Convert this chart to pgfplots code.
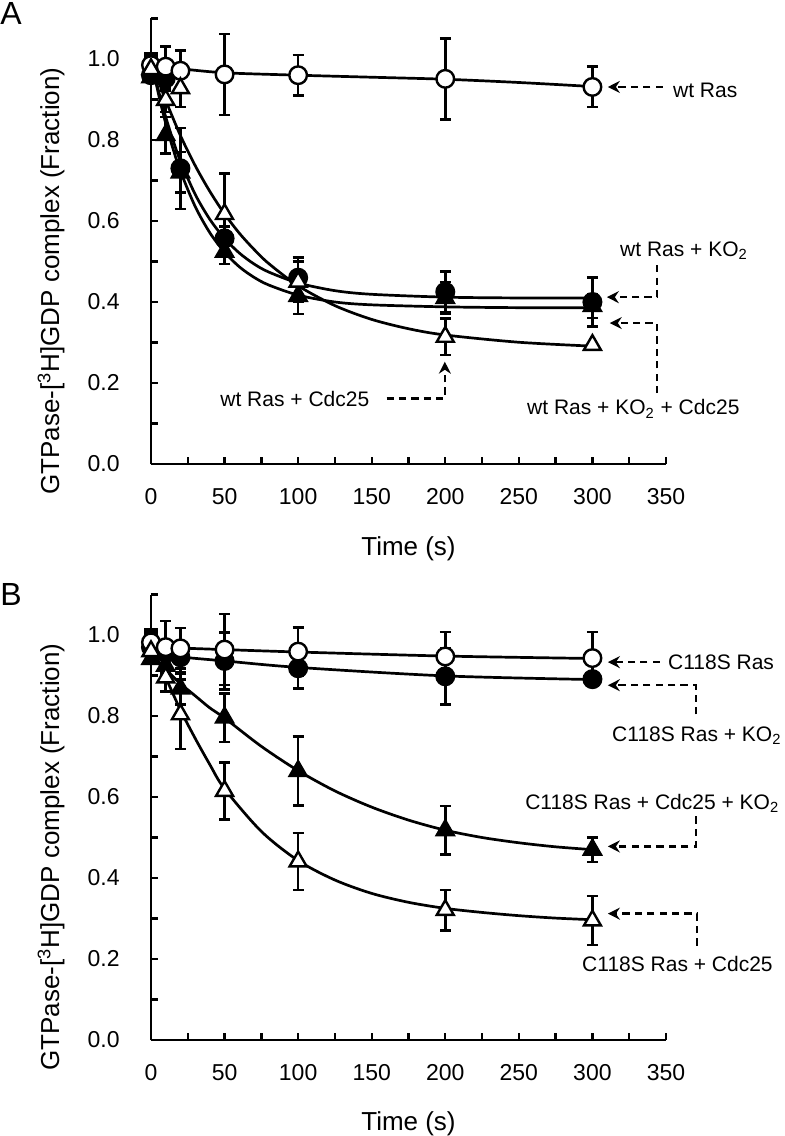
\documentclass[border=0pt]{standalone}
\usepackage{fontspec}
\setmainfont{Liberation Sans}
\usepackage{pgfplots}
\pgfplotsset{compat=1.18}
\usetikzlibrary{arrows.meta}
\pgfplotsset{
  panel/.style={
    scale only axis, width=257.5pt, height=222.75pt,
    xmin=0, xmax=350, ymin=0, ymax=1.1,
    axis lines=left, axis line style={-, line width=1.3pt},
    xtick={0,50,100,150,200,250,300,350},
    minor xtick={25,75,125,175,225,275,325},
    ytick={0,0.2,0.4,0.6,0.8,1.0},
    minor ytick={0.1,0.3,0.5,0.7,0.9,1.1},
    tick align=inside,
    major tick length=3.5pt, minor tick length=3.5pt,
    tick style={black, line width=1.2pt},
    tick label style={font=\fontsize{11.5}{13}\selectfont},
    /pgf/number format/assume math mode=true,
    yticklabel style={anchor=east, inner sep=0pt, xshift=-15.5pt,
      /pgf/number format/fixed, /pgf/number format/fixed zerofill, /pgf/number format/precision=1},
    xticklabel style={anchor=north, inner sep=0pt, yshift=-12pt},
    clip=false,
  },
  ocirc/.style={only marks, mark=*, mark size=4.4pt, mark options={fill=white, draw=black, line width=1.2pt, solid}},
  fcirc/.style={only marks, mark=*, mark size=4.4pt, mark options={fill=black, draw=black, line width=1.2pt, solid}},
  otri/.style={only marks, mark=triangle*, mark size=4.9pt, mark options={fill=white, draw=black, line width=1.2pt, solid}},
  ftri/.style={only marks, mark=triangle*, mark size=4.9pt, mark options={fill=black, draw=black, line width=1.2pt, solid}},
  fsq/.style={only marks, mark=square*, mark size=3pt, mark options={fill=black, draw=black, line width=1pt, solid}},
  ebars/.style={error bars/y dir=both, error bars/y explicit,
    error bars/error mark=-,
    error bars/error bar style={line width=1.25pt, black, solid},
    error bars/error mark options={rotate=90, line width=1.25pt, black, mark size=2.75pt}},
  fitline/.style={black, line width=1.35pt, smooth, no marks},
}
\tikzset{annarrow/.style={line width=1.2pt, dash pattern=on 3.6pt off 2.6pt, -{Stealth[length=6pt, width=6pt, inset=2pt]}},
  ann/.style={anchor=base west, inner sep=0pt, font=\fontsize{10.5}{12}\selectfont}}
\begin{document}
\begin{tikzpicture}
\useasboundingbox (-75.5pt,-336pt) rectangle (317pt,232pt);
% ---------------- Panel A ----------------
\begin{axis}[panel, at={(0pt,0pt)}, anchor=south west]
% fitted curves
\addplot[fitline] table[x=t,y=v] {
t v
0 0.985
20 0.976
50 0.966
100 0.960
150 0.955
200 0.950
250 0.942
300 0.932
};
\addplot[fitline] table[x=t,y=v] {
t v
0 1.0
5 0.923
10 0.857
15 0.799
20 0.748
30 0.666
40 0.604
50 0.557
60 0.521
70 0.494
80 0.474
100 0.447
125 0.428
150 0.419
200 0.412
250 0.410
300 0.410
};
\addplot[fitline] table[x=t,y=v] {
t v
0 1.0
5 0.915
10 0.841
15 0.778
20 0.723
30 0.636
40 0.571
50 0.523
60 0.487
70 0.461
80 0.442
100 0.417
125 0.400
150 0.393
200 0.388
250 0.386
300 0.386
};
\addplot[fitline] table[x=t,y=v] {
t v
0 1.0
5 0.947
10 0.898
20 0.811
30 0.737
40 0.673
50 0.6175
60 0.570
70 0.530
80 0.495
100 0.440
125 0.391
150 0.357
175 0.334
200 0.3185
250 0.3006
300 0.291
};
% data
\addplot[fsq] coordinates {(0,1.0)};
\addplot[fcirc, ebars] table[x=t,y=v,y error=e] {
t v e
0 0.960 0
10 0.952 0.03
20 0.730 0.10
50 0.557 0.03
100 0.460 0.05
200 0.425 0.05
300 0.400 0.06
};
\addplot[ftri, ebars] table[x=t,y=v,y error=e] {
t v e
0 0.955 0
10 0.812 0.045
20 0.720 0.05
50 0.524 0.03
100 0.415 0.045
200 0.410 0.04
300 0.390 0.03
};
\addplot[ocirc, ebars] table[x=t,y=v,y error=e] {
t v e
0 0.985 0
10 0.981 0.05
20 0.971 0.05
50 0.962 0.10
100 0.960 0.05
200 0.951 0.10
300 0.931 0.05
};
\addplot[otri, ebars] table[x=t,y=v,y error=e] {
t v e
0 0.975 0
10 0.899 0.03
20 0.928 0.047
50 0.617 0.10
100 0.450 0.05
200 0.314 0.045
300 0.294 0
};
% annotations
\draw[annarrow] (347.8,0.931) -- (310.5,0.931);
\node[ann] at (354.6,0.9045) {wt Ras};
\draw[annarrow] (343.8,0.491) -- (343.8,0.412) -- (309.8,0.412);
\node[ann] at (318.6,0.512) {wt Ras + KO\textsubscript{2}};
\draw[annarrow] (343.8,0.175) -- (343.8,0.348) -- (311.8,0.348);
\node[ann] at (255.4,0.121) {wt Ras + KO\textsubscript{2} + Cdc25};
\draw[annarrow] (160.1,0.162) -- (199.7,0.162) -- (199.7,0.2526);
\node[ann] at (46.9,0.1415) {wt Ras + Cdc25};
\end{axis}
% ---------------- Panel B ----------------
\begin{axis}[panel, at={(0pt,-288pt)}, anchor=south west]
\addplot[fitline] table[x=t,y=v] {
t v
0 0.982
10 0.972
20 0.968
50 0.964
100 0.958
200 0.948
300 0.942
};
\addplot[fitline] table[x=t,y=v] {
t v
0 0.972
10 0.955
20 0.946
50 0.936
100 0.920
200 0.899
300 0.890
};
\addplot[fitline] table[x=t,y=v] {
t v
0 0.950
10 0.915
20 0.880
30 0.850
40 0.820
50 0.795
75 0.725
100 0.665
125 0.615
150 0.575
175 0.543
200 0.518
225 0.500
250 0.487
275 0.477
300 0.470
};
\addplot[fitline] table[x=t,y=v] {
t v
0 0.975
10 0.895
20 0.815
30 0.745
40 0.680
50 0.620
75 0.515
100 0.443
125 0.395
150 0.362
175 0.340
200 0.325
225 0.315
250 0.307
275 0.301
300 0.297
};
\addplot[fsq] coordinates {(0,1.0)};
\addplot[fcirc, ebars] table[x=t,y=v,y error=e] {
t v e
0 0.970 0
10 0.955 0.03
20 0.945 0.04
50 0.936 0.07
100 0.918 0.05
200 0.898 0.07
300 0.891 0.015
};
\addplot[ftri, ebars] table[x=t,y=v,y error=e] {
t v e
0 0.941 0
10 0.924 0.03
20 0.868 0.04
50 0.796 0.06
100 0.664 0.085
200 0.518 0.06
300 0.470 0.03
};
\addplot[ocirc, ebars] table[x=t,y=v,y error=e] {
t v e
0 0.982 0
10 0.970 0.065
20 0.967 0.05
50 0.964 0.088
100 0.959 0.06
200 0.947 0.06
300 0.943 0.064
};
\addplot[otri, ebars] table[x=t,y=v,y error=e] {
t v e
0 0.960 0
10 0.895 0.035
20 0.804 0.086
50 0.615 0.07
100 0.441 0.07
200 0.321 0.05
300 0.295 0.06
};
\draw[annarrow] (345.8,0.933) -- (310.5,0.933);
\node[ann] at (351.2,0.914) {C118S Ras};
\draw[annarrow] (370.2,0.804) -- (370.2,0.876) -- (310.5,0.876);
\node[ann] at (313.2,0.738) {C118S Ras + KO\textsubscript{2}};
\draw[annarrow] (370.2,0.552) -- (370.2,0.478) -- (310.5,0.478);
\node[ann] at (254.1,0.569) {C118S Ras + Cdc25 + KO\textsubscript{2}};
\draw[annarrow] (370.9,0.233) -- (370.9,0.312) -- (310.5,0.312);
\node[ann] at (292.8,0.169) {C118S Ras + Cdc25};
\end{axis}
% labels
\node[anchor=base west, inner sep=0pt, font=\fontsize{16}{19}\selectfont] at (-75.5pt,219.5pt) {A};
\node[anchor=base west, inner sep=0pt, font=\fontsize{16}{19}\selectfont] at (-75.5pt,-70.5pt) {B};
\node[rotate=90, inner sep=0pt, font=\fontsize{13}{15}\selectfont] at (-50pt,91.5pt) {GTPase-[\textsuperscript{3}H]GDP complex (Fraction)};
\node[rotate=90, inner sep=0pt, font=\fontsize{13}{15}\selectfont] at (-50pt,-196.5pt) {GTPase-[\textsuperscript{3}H]GDP complex (Fraction)};
\node[anchor=base, inner sep=0pt, font=\fontsize{13}{15}\selectfont] at (128.75pt,-45.5pt) {Time (s)};
\node[anchor=base, inner sep=0pt, font=\fontsize{13}{15}\selectfont] at (128.75pt,-333pt) {Time (s)};
\end{tikzpicture}
\end{document}
